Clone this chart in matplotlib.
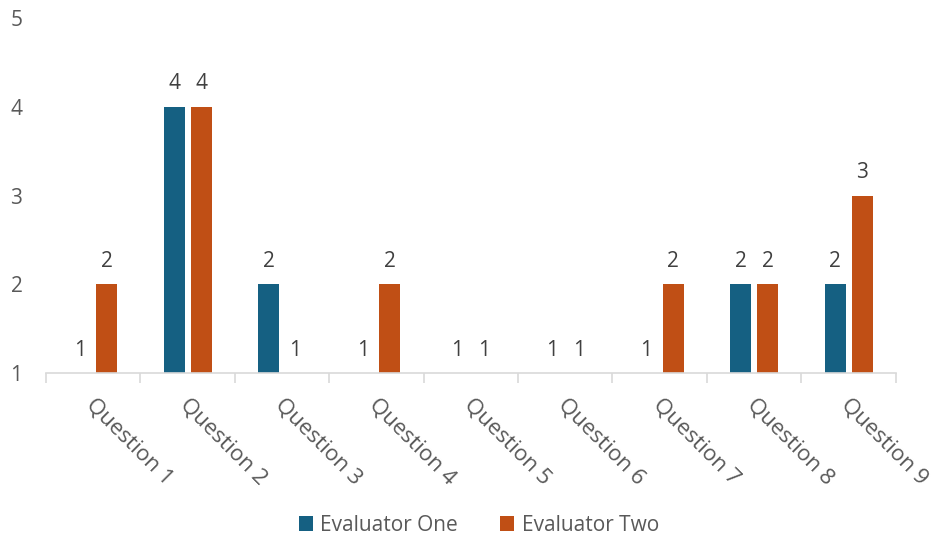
import matplotlib
matplotlib.use("Agg")
import matplotlib.pyplot as plt
import numpy as np

categories = ["Question 1", "Question 2", "Question 3", "Question 4", "Question 5",
              "Question 6", "Question 7", "Question 8", "Question 9"]
evaluator_one = [1, 4, 2, 1, 1, 1, 1, 2, 2]
evaluator_two = [2, 4, 1, 2, 1, 1, 2, 2, 3]
series_names = ["Evaluator One", "Evaluator Two"]
colors = ["#156082", "#C04F15"]

plt.rcParams['font.family'] = ['Open Sans', 'DejaVu Sans']

fig = plt.figure(figsize=(9.35, 5.4), dpi=100)
ax = fig.add_axes([0.0492, 0.309, 0.9088, 0.6577])

x = np.arange(len(categories))
width = 0.222
offset = 0.143
base = 1

for vals, off, col, name in zip([evaluator_one, evaluator_two], [-offset, offset], colors, series_names):
    heights = [v - base for v in vals]
    ax.bar(x + off, heights, width, bottom=base, color=col, label=name)
    for xi, v in zip(x + off, vals):
        ax.annotate(f"{v}", (xi, v), xytext=(0, 9), textcoords="offset points",
                    ha="center", va="bottom", fontsize=15, color="#404040")

ax.set_xlim(-0.5, len(categories) - 0.5)
ax.set_ylim(1, 5)
ax.set_yticks([1, 2, 3, 4, 5])
ax.tick_params(axis="y", length=0, labelsize=15, labelcolor="#595959", pad=17)

ax.set_xticks(np.arange(len(categories) + 1) - 0.5)
ax.set_xticklabels([])
ax.tick_params(axis="x", length=7, width=1.2, color="#d9d9d9")
for xi, lab in zip(x, categories):
    ax.text(xi - 0.04, -0.08, lab, transform=ax.get_xaxis_transform(),
            rotation=-45, rotation_mode="anchor", ha="left", va="center",
            fontsize=16, color="#595959")

for s in ["top", "right", "left"]:
    ax.spines[s].set_visible(False)
ax.spines["bottom"].set_color("#d9d9d9")
ax.spines["bottom"].set_linewidth(1.2)

leg = fig.legend(loc="center", bbox_to_anchor=(0.512, 0.027), ncol=2, frameon=False,
                 fontsize=15, handlelength=0.7, handleheight=0.7, handletextpad=0.35,
                 columnspacing=2.0)
for t in leg.get_texts():
    t.set_color("#595959")

fig.savefig("out.png", dpi=100)
